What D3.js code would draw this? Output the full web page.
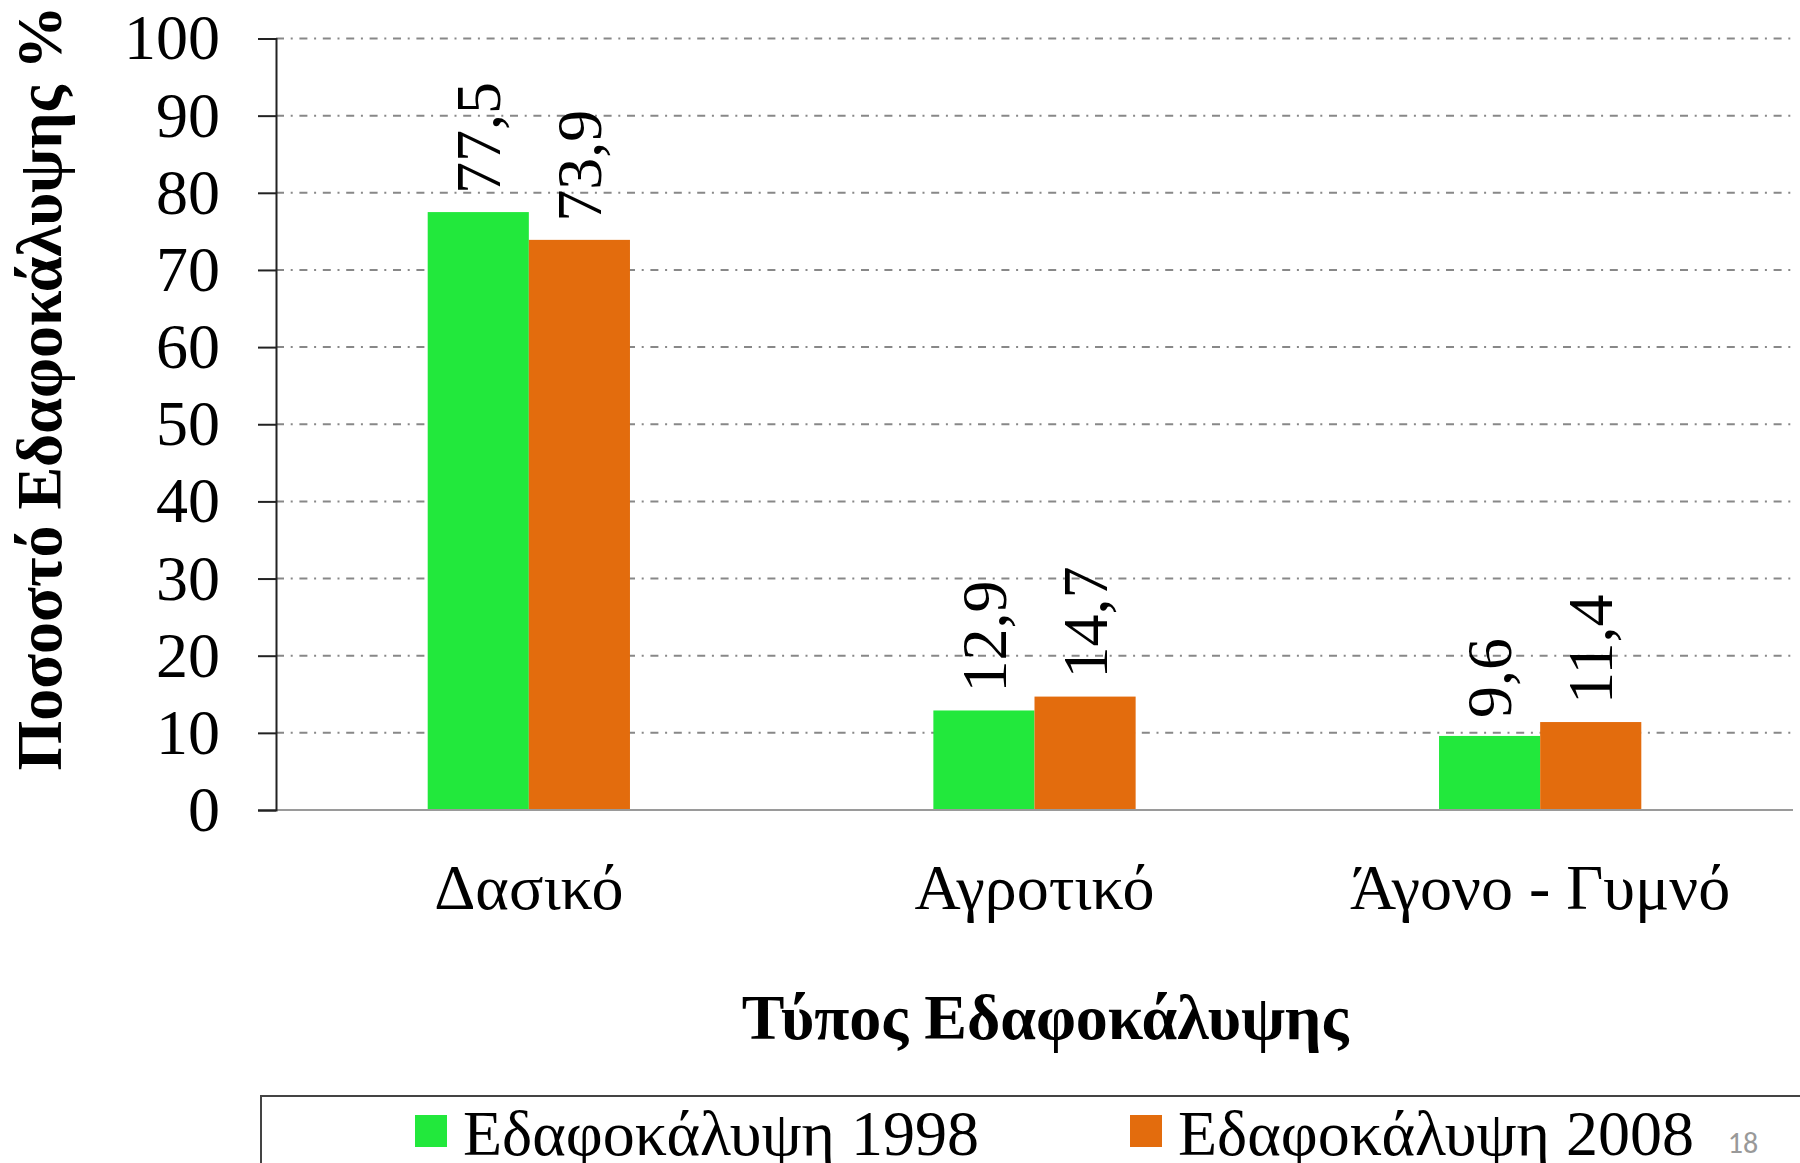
<!DOCTYPE html>
<html><head><meta charset="utf-8">
<script src="https://cdn.jsdelivr.net/npm/d3@7"></script>
<style>
html,body{margin:0;padding:0;background:#fff;overflow:hidden;}
svg{display:block;}
text{font-family:"Liberation Serif","Times New Roman",serif;}
</style></head>
<body>
<script>
const categories = ["Δασικό", "Αγροτικό", "Άγονο - Γυμνό"];
const seriesNames = ["Εδαφοκάλυψη 1998", "Εδαφοκάλυψη 2008"];
const values1998 = [77.5, 12.9, 9.6];
const values2008 = [73.9, 14.7, 11.4];
const labels1998 = ["77,5", "12,9", "9,6"];
const labels2008 = ["73,9", "14,7", "11,4"];
const yTicks = [0, 10, 20, 30, 40, 50, 60, 70, 80, 90, 100];
const colors = ["#22E83C", "#E36C0D"];

const W = 1800, H = 1163;
const FS = 64;
const plot = {left: 276, right: 1793, top: 38.5, bottom: 810};

const svg = d3.select("body").append("svg").attr("width", W).attr("height", H);

const y = d3.scaleLinear().domain([0, 100]).range([plot.bottom, plot.top]);
const x0 = d3.scaleBand().domain(categories).range([plot.left, plot.right]).paddingInner(0.6).paddingOuter(0.3);
const x1 = d3.scaleBand().domain([0, 1]).range([0, x0.bandwidth()]);

// gridlines
svg.append("g").selectAll("line").data(yTicks.filter(d => d > 0)).join("line")
  .attr("x1", plot.left).attr("x2", plot.right)
  .attr("y1", d => y(d)).attr("y2", d => y(d))
  .attr("stroke", "#888").attr("stroke-width", 2)
  .attr("stroke-dasharray", "8,6.7,2,6.7");

// bars
const series = [values1998, values2008];
const labs = [labels1998, labels2008];
const g = svg.append("g");
categories.forEach((c, i) => {
  series.forEach((vals, s) => {
    g.append("rect")
      .attr("x", x0(c) + x1(s))
      .attr("y", y(vals[i]))
      .attr("width", x1.bandwidth())
      .attr("height", y(0) - y(vals[i]))
      .attr("fill", colors[s]);
    const cx = x0(c) + x1(s) + x1.bandwidth() / 2;
    const ty = y(vals[i]) - 18;
    g.append("text")
      .attr("transform", `translate(${cx},${ty}) rotate(-90)`)
      .attr("dy", "0.34em")
      .attr("text-anchor", "start")
      .attr("font-size", FS)
      .attr("fill", "#000")
      .text(labs[s][i]);
  });
});

// x axis line
svg.append("line").attr("x1", plot.left).attr("x2", plot.right)
  .attr("y1", y(0)).attr("y2", y(0)).attr("stroke", "#9a9a9a").attr("stroke-width", 2);

// y axis
const yAxis = d3.axisLeft(y).tickValues(yTicks).tickSize(18).tickPadding(38).tickFormat(d3.format("d"));
const ya = svg.append("g").attr("transform", `translate(${plot.left},0)`).call(yAxis);
ya.select(".domain").attr("stroke", "#222").attr("stroke-width", 2);
ya.selectAll(".tick line").attr("stroke", "#222").attr("stroke-width", 2);
ya.selectAll(".tick text").attr("font-size", FS).attr("fill", "#000")
  .attr("font-family", "Liberation Serif, Times New Roman, serif");

// category labels
svg.append("g").selectAll("text").data(categories).join("text")
  .attr("x", d => x0(d) + x0.bandwidth() / 2)
  .attr("y", 909)
  .attr("text-anchor", "middle")
  .attr("font-size", FS)
  .text(d => d);

// axis titles
svg.append("text").attr("x", 1045).attr("y", 1039)
  .attr("text-anchor", "middle").attr("font-size", FS).attr("font-weight", "bold")
  .text("Τύπος Εδαφοκάλυψης");
svg.append("text").attr("transform", `translate(61,388) rotate(-90)`)
  .attr("text-anchor", "middle").attr("font-size", FS).attr("font-weight", "bold")
  .text("Ποσοστό Εδαφοκάλυψης %");

// legend
svg.append("path").attr("d", `M261,${H + 5} L261,1096 L${W + 5},1096`)
  .attr("fill", "none").attr("stroke", "#444").attr("stroke-width", 2);
const legendX = [415, 1130];
seriesNames.forEach((n, s) => {
  svg.append("rect").attr("x", legendX[s]).attr("y", 1115).attr("width", 32).attr("height", 32).attr("fill", colors[s]);
  svg.append("text").attr("x", legendX[s] + 48).attr("y", 1155).attr("font-size", FS).text(n);
});
svg.append("text").attr("x", 1743).attr("y", 1153).attr("text-anchor", "middle")
  .attr("font-size", 30).attr("fill", "#999")
  .style("font-family", "Carlito, 'Open Sans', sans-serif").text("18");
</script>
</body></html>
